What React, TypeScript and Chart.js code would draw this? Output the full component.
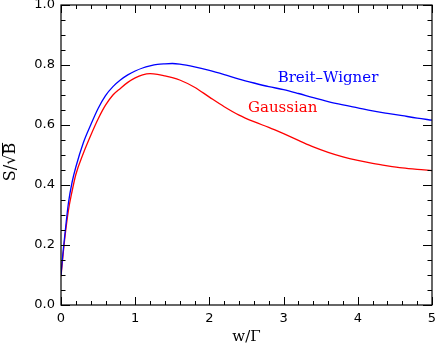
import React, { useEffect, useRef } from "react";
import { Chart, registerables } from "chart.js";

Chart.register(...registerables);

const xValues = [0, 0.025, 0.05, 0.1, 0.15, 0.2, 0.3, 0.4, 0.5, 0.6, 0.7, 0.8, 0.9, 1.0, 1.1, 1.2, 1.3, 1.4, 1.5, 1.6, 1.8, 2.0, 2.2, 2.4, 2.6, 2.8, 3.0, 3.2, 3.4, 3.6, 3.8, 4.0, 4.2, 4.4, 4.6, 4.8, 5.0];
const breitWigner = [0.10, 0.17, 0.23, 0.34, 0.41, 0.46, 0.54, 0.60, 0.655, 0.698, 0.728, 0.75, 0.767, 0.78, 0.79, 0.797, 0.802, 0.804, 0.805, 0.803, 0.794, 0.782, 0.768, 0.753, 0.74, 0.728, 0.718, 0.705, 0.691, 0.678, 0.667, 0.657, 0.647, 0.639, 0.631, 0.623, 0.616];
const gaussian = [0.095, 0.16, 0.22, 0.315, 0.38, 0.435, 0.505, 0.565, 0.62, 0.666, 0.70, 0.722, 0.742, 0.757, 0.767, 0.771, 0.769, 0.764, 0.758, 0.75, 0.726, 0.693, 0.661, 0.633, 0.611, 0.592, 0.571, 0.549, 0.527, 0.509, 0.494, 0.482, 0.472, 0.464, 0.457, 0.452, 0.448];

const xTicks = [0, 1, 2, 3, 4, 5];
const yTicks = [0, 0.2, 0.4, 0.6, 0.8, 1.0];
const seriesNames = ["Breit\u2013Wigner", "Gaussian"];
const labelPos = [
  { x: 2.92, y: 0.757 },
  { x: 2.52, y: 0.657 },
];
const colors = ["#0000ff", "#ff0000"];

const tickPlugin = {
  id: "innerTicks",
  afterDraw(chart: any) {
    const ctx = chart.ctx;
    const a = chart.chartArea;
    const xs = chart.scales.x;
    const ys = chart.scales.y;
    ctx.save();
    ctx.strokeStyle = "#000";
    ctx.lineWidth = 1.2;
    ctx.strokeRect(a.left, a.top, a.right - a.left, a.bottom - a.top);
    ctx.lineWidth = 1;
    ctx.beginPath();
    for (let i = 0; i <= 25; i++) {
      const v = i * 0.2;
      const px = Math.round(xs.getPixelForValue(v)) + 0.5;
      const len = i % 5 === 0 ? 8 : 4;
      ctx.moveTo(px, a.bottom);
      ctx.lineTo(px, a.bottom - len);
      ctx.moveTo(px, a.top);
      ctx.lineTo(px, a.top + len);
    }
    for (let i = 0; i <= 20; i++) {
      const v = i * 0.05;
      const py = Math.round(ys.getPixelForValue(v)) + 0.5;
      const len = i % 4 === 0 ? 9 : 4.5;
      ctx.moveTo(a.left, py);
      ctx.lineTo(a.left + len, py);
      ctx.moveTo(a.right, py);
      ctx.lineTo(a.right - len, py);
    }
    ctx.stroke();
    ctx.font = "15px 'DejaVu Serif'";
    ctx.textBaseline = "middle";
    ctx.textAlign = "left";
    labelPos.forEach((p, i) => {
      ctx.fillStyle = colors[i];
      ctx.fillText(seriesNames[i], xs.getPixelForValue(p.x), ys.getPixelForValue(p.y));
    });
    // y-axis title S/sqrt(B) with overline
    const cy = (a.top + a.bottom) / 2 + 7;
    ctx.translate(11, cy);
    ctx.rotate(-Math.PI / 2);
    ctx.font = "16px 'DejaVu Serif'";
    ctx.fillStyle = "#000";
    const pre = "S/\u221A";
    const post = "B";
    const w1 = ctx.measureText(pre).width;
    const w2 = ctx.measureText(post).width;
    const start = -(w1 + w2) / 2;
    ctx.textAlign = "left";
    ctx.fillText(pre, start, 0);
    ctx.fillText(post, start + w1, 0);
    ctx.lineWidth = 1;
    ctx.beginPath();
    ctx.moveTo(start + w1 - 1, -8.5);
    ctx.lineTo(start + w1 + w2, -8.5);
    ctx.stroke();
    ctx.restore();
  },
};

export default function App() {
  const ref = useRef<HTMLCanvasElement | null>(null);
  useEffect(() => {
    if (!ref.current) return;
    const chart = new Chart(ref.current, {
      type: "line",
      data: {
        datasets: [breitWigner, gaussian].map((ser, i) => ({
          label: seriesNames[i],
          data: xValues.map((x, j) => ({ x, y: ser[j] })),
          borderColor: colors[i],
          borderWidth: 1.3,
          pointRadius: 0,
          fill: false,
          cubicInterpolationMode: "monotone" as const,
        })),
      },
      options: {
        animation: false,
        responsive: false,
        maintainAspectRatio: false,
        layout: { padding: { top: 5, right: 4, left: 0, bottom: 0 } },
        plugins: { legend: { display: false }, tooltip: { enabled: false } },
        scales: {
          x: {
            type: "linear",
            min: 0,
            max: 5,
            afterFit: (s: any) => { s.height = 41; s.paddingLeft = 0; s.paddingRight = 0; },
            afterBuildTicks: (s: any) => { s.ticks = xTicks.map((v) => ({ value: v })); },
            grid: { display: false, drawTicks: false },
            border: { display: false },
            ticks: {
              color: "#000",
              font: { family: "'DejaVu Sans'", size: 13 },
              padding: 6,
              maxRotation: 0,
              callback: (v: any) => String(v),
            },
            title: {
              display: true,
              text: "w/\u0393",
              color: "#000",
              font: { family: "'DejaVu Serif'", size: 15 },
              padding: { top: -3, bottom: 0 },
            },
          },
          y: {
            type: "linear",
            min: 0,
            max: 1,
            afterFit: (s: any) => { s.width = 61; s.paddingTop = 0; s.paddingBottom = 0; },
            afterBuildTicks: (s: any) => { s.ticks = yTicks.map((v) => ({ value: v })); },
            grid: { display: false, drawTicks: false },
            border: { display: false },
            ticks: {
              color: "#000",
              font: { family: "'DejaVu Sans'", size: 13 },
              padding: 6,
              callback: (v: any) => Number(v).toFixed(1),
            },
          },
        },
      },
      plugins: [tickPlugin],
    });
    return () => chart.destroy();
  }, []);
  return (
    <div style={{ position: "fixed", left: 0, top: 0, width: 436, height: 346, background: "#fff" }}>
      <canvas ref={ref} width={436} height={346} style={{ width: 436, height: 346 }} />
    </div>
  );
}
